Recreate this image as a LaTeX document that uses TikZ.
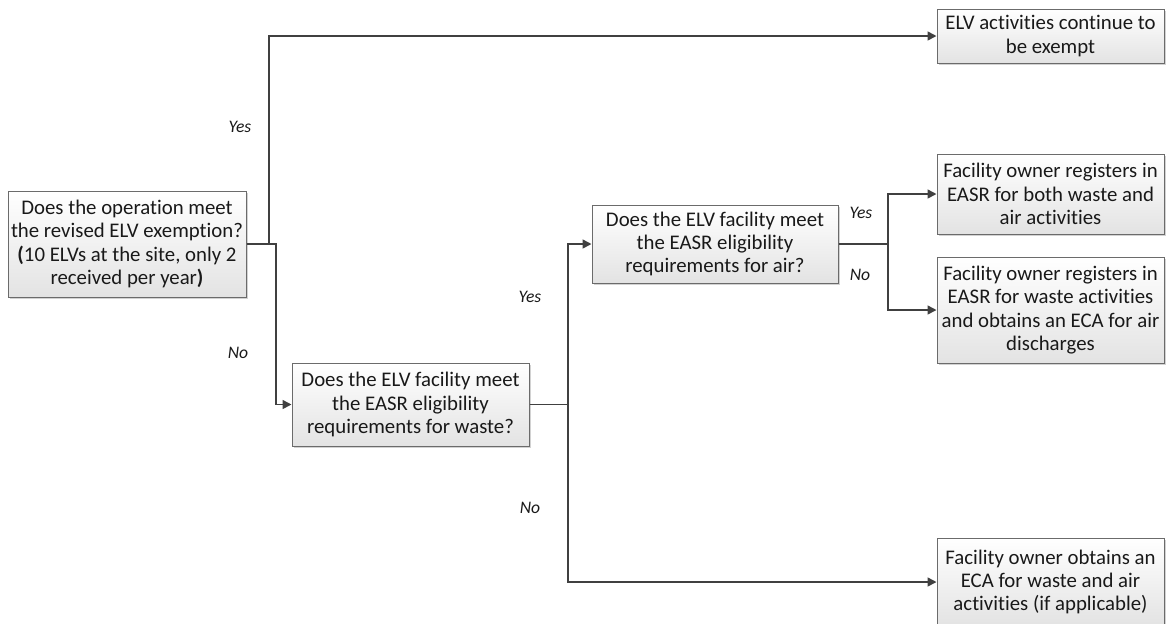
\documentclass[tikz,border=0pt]{standalone}
\usepackage{fontspec}
\setmainfont{Carlito}[RawFeature={-liga;-clig}]
\usetikzlibrary{arrows.meta,shadows}
\begin{document}
\begin{tikzpicture}[x=0.5pt,y=-0.5pt,
  box/.style={draw=black!58, line width=0.5pt, top color=white, bottom color=black!11,
    align=center, inner sep=1pt, font=\fontsize{10.4}{11.7}\selectfont, text=black!90,
    drop shadow={shadow xshift=1pt, shadow yshift=-1pt, fill=black!35, opacity=0.5}},
  conn/.style={draw=black!75, line width=0.8pt, -{Triangle[length=4.5pt,width=4.5pt]}},
  lbl/.style={font=\fontsize{8.8}{10}\selectfont\itshape, text=black!90}
]
\useasboundingbox (0,0) rectangle (1169,623);

\node[box, minimum width=119pt, minimum height=53pt] (q1) at (127,244)
  {Does the operation meet\\the revised ELV exemption?\\\textbf{(}10 ELVs at the site, only 2\\received per year\textbf{)}};
\node[box, minimum width=113.5pt, minimum height=27pt] (top) at (1050.5,36)
  {ELV activities continue to\\be exempt};
\node[box, minimum width=118.5pt, minimum height=41.5pt] (waste) at (410.5,404.5)
  {Does the ELV facility meet\\the EASR eligibility\\requirements for waste?};
\node[box, minimum width=123pt, minimum height=39pt] (air) at (715,244)
  {Does the ELV facility meet\\the EASR eligibility\\requirements for air?};
\node[box, minimum width=113.5pt, minimum height=40pt] (r2) at (1050.5,194)
  {Facility owner registers in\\EASR for both waste and\\air activities};
\node[box, minimum width=113.5pt, minimum height=53pt] (r3) at (1050.5,310)
  {Facility owner registers in\\EASR for waste activities\\and obtains an ECA for air\\discharges};
\node[box, minimum width=113.5pt, minimum height=44pt] (r4) at (1050.5,582)
  {Facility owner obtains an\\ECA for waste and air\\activities (if applicable)};

\coordinate (j1) at (269,244);
\coordinate (j2) at (276,244);
\coordinate (j3) at (568,404.5);
\coordinate (j4) at (888,244);

\draw[conn] (q1.east) -- (j1) |- (top.west);
\draw[conn] (q1.east) -- (j2) |- (waste.west);
\draw[conn] (waste.east) -- (j3) |- (air.west);
\draw[conn] (j3) |- (r4.west);
\draw[conn] (air.east) -- (j4) |- (r2.west);
\draw[conn] (j4) |- (r3.west);

\node[lbl] (l1) at (240,127) {Yes};
\node[lbl] (l2) at (238,353) {No};
\node[lbl] (l3) at (530,297) {Yes};
\node[lbl] (l4) at (530,508) {No};
\node[lbl] (l5) at (861,213) {Yes};
\node[lbl] (l6) at (860,275) {No};
\end{tikzpicture}
\end{document}
